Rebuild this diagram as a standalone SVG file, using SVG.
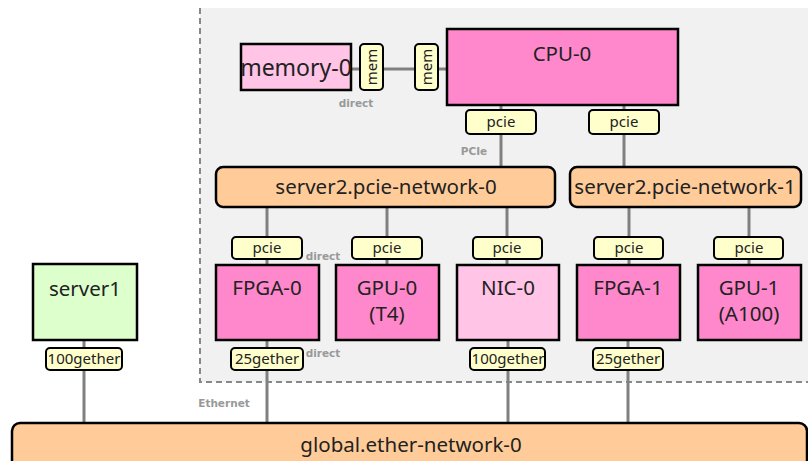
<svg xmlns="http://www.w3.org/2000/svg" width="808" height="461" viewBox="0 0 808 461">
<style>
.node{stroke:#000;stroke-width:2.5}
.dev{fill:#ff88cc}
.light{fill:#ffc4e6}
.net{fill:#ffcc99;stroke:#000;stroke-width:2.5}
.port{fill:#ffffcc;stroke:#000;stroke-width:2}
.lbl{font-family:"Noto Sans","DejaVu Sans",sans-serif;font-size:20.5px;fill:#222;text-anchor:middle}
.plbl{font-family:"Noto Sans","DejaVu Sans",sans-serif;font-size:15px;fill:#222;text-anchor:middle}
.elbl{font-family:"DejaVu Sans","Noto Sans",sans-serif;font-size:10.5px;font-weight:bold;fill:#999;text-anchor:middle}
.conn line{stroke:#808080;stroke-width:3}
</style>
<rect x="0" y="0" width="808" height="461" fill="#fff"/>
<g id="server2">
<rect x="200" y="8" width="620" height="374" fill="#f1f1f1"/>
<path d="M200 8 V382 H808" fill="none" stroke="#888" stroke-width="2" stroke-dasharray="6,4"/>
</g>
<g class="conn" id="connectors">
<line x1="351" y1="69" x2="447" y2="69"/>
<line x1="501" y1="105" x2="501" y2="167"/>
<line x1="624" y1="105" x2="624" y2="167"/>
<line x1="267" y1="207" x2="267" y2="265"/>
<line x1="387" y1="207" x2="387" y2="265"/>
<line x1="507" y1="207" x2="507" y2="265"/>
<line x1="629" y1="207" x2="629" y2="265"/>
<line x1="749" y1="207" x2="749" y2="265"/>
<line x1="84" y1="340" x2="84" y2="423"/>
<line x1="267" y1="340" x2="267" y2="423"/>
<line x1="508" y1="340" x2="508" y2="423"/>
<line x1="628" y1="340" x2="628" y2="423"/>
</g>
<g id="edge-labels">
<text class="elbl" x="356" y="107">direct</text>
<text class="elbl" x="474" y="155">PCIe</text>
<text class="elbl" x="323" y="260">direct</text>
<text class="elbl" x="323" y="357">direct</text>
<text class="elbl" x="224" y="407">Ethernet</text>
</g>
<g id="memory-0">
<rect class="node light" x="241" y="44" width="110" height="46"/>
<text class="lbl" x="296" y="76" style="font-size:23px">memory-0</text>
</g>
<g id="mem-ports">
<rect class="port" x="360" y="44" width="23" height="46" rx="4"/>
<text class="plbl" transform="translate(377 67) rotate(-90)">mem</text>
<rect class="port" x="415" y="44" width="23" height="46" rx="4"/>
<text class="plbl" transform="translate(432 67) rotate(-90)">mem</text>
</g>
<g id="cpu-0">
<rect class="node dev" x="447" y="29" width="231" height="76"/>
<text class="lbl" x="562" y="61">CPU-0</text>
<rect class="port" x="466" y="110" width="70" height="24" rx="4"/>
<text class="plbl" x="501" y="127">pcie</text>
<rect class="port" x="589" y="110" width="70" height="24" rx="4"/>
<text class="plbl" x="624" y="127">pcie</text>
</g>
<g id="pcie-network-0">
<rect class="net" x="216" y="167" width="339" height="40" rx="7"/>
<text class="lbl" x="386" y="194">server2.pcie-network-0</text>
</g>
<g id="pcie-network-1">
<rect class="net" x="570" y="167" width="231" height="40" rx="7"/>
<text class="lbl" x="685" y="194">server2.pcie-network-1</text>
</g>
<g id="fpga-0">
<rect class="port" x="232" y="237" width="70" height="22" rx="4"/>
<text class="plbl" x="267" y="253">pcie</text>
<rect class="node dev" x="216" y="265" width="103" height="75"/>
<text class="lbl" x="267" y="295">FPGA-0</text>
<rect class="port" x="231" y="348" width="72" height="22" rx="4"/>
<text class="plbl" x="267" y="364">25gether</text>
</g>
<g id="gpu-0">
<rect class="port" x="352" y="237" width="70" height="22" rx="4"/>
<text class="plbl" x="387" y="253">pcie</text>
<rect class="node dev" x="336" y="265" width="103" height="75"/>
<text class="lbl" x="387" y="295">GPU-0</text>
<text class="lbl" x="387" y="321">(T4)</text>
</g>
<g id="nic-0">
<rect class="port" x="473" y="237" width="69" height="22" rx="4"/>
<text class="plbl" x="507" y="253">pcie</text>
<rect class="node light" x="457" y="265" width="102" height="75"/>
<text class="lbl" x="508" y="295">NIC-0</text>
<rect class="port" x="470" y="348" width="75" height="22" rx="4"/>
<text class="plbl" x="508" y="364">100gether</text>
</g>
<g id="fpga-1">
<rect class="port" x="594" y="237" width="69" height="22" rx="4"/>
<text class="plbl" x="629" y="253">pcie</text>
<rect class="node dev" x="577" y="265" width="103" height="75"/>
<text class="lbl" x="628" y="295">FPGA-1</text>
<rect class="port" x="593" y="348" width="70" height="22" rx="4"/>
<text class="plbl" x="628" y="364">25gether</text>
</g>
<g id="gpu-1">
<rect class="port" x="714" y="237" width="69" height="22" rx="4"/>
<text class="plbl" x="749" y="253">pcie</text>
<rect class="node dev" x="698" y="265" width="103" height="75"/>
<text class="lbl" x="749" y="295">GPU-1</text>
<text class="lbl" x="749" y="321">(A100)</text>
</g>
<g id="server1">
<rect class="node" fill="#ddffcc" x="33" y="264" width="104" height="76"/>
<text class="lbl" x="85" y="296">server1</text>
<rect class="port" x="46" y="348" width="76" height="22" rx="4"/>
<text class="plbl" x="84" y="364">100gether</text>
</g>
<g id="global-ether-network-0">
<rect class="net" x="12" y="423" width="795" height="50" rx="8"/>
<text class="lbl" x="411" y="452">global.ether-network-0</text>
</g>
</svg>
